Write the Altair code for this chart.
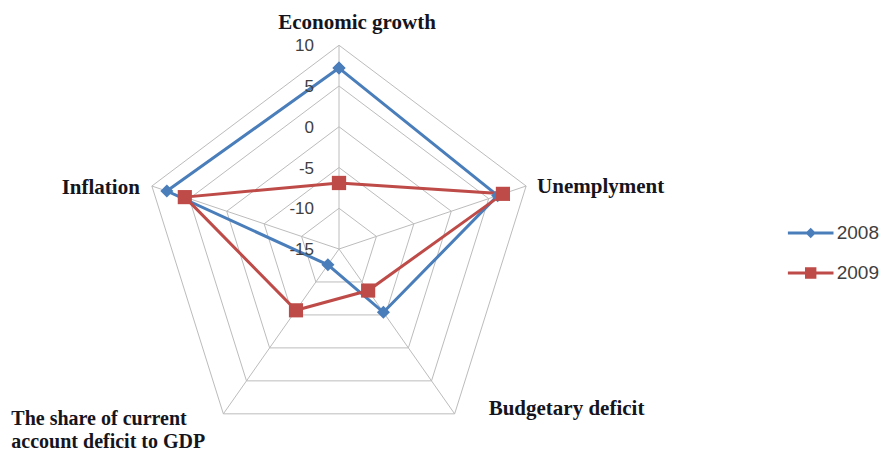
import altair as alt
import pandas as pd

# ---------------- data ----------------
axis_names = ["Economic growth", "Unemplyment", "Budgetary deficit",
              "The share of current\naccount deficit to GDP", "Inflation"]
series_names = ["2008", "2009"]
values_2008 = [7.2, 6.2, -5.4, -12.6, 8.0]
values_2009 = [-6.9, 6.9, -8.7, -5.7, 5.6]
ring_levels = [-10, -5, 0, 5, 10]
tick_values = [10, 5, 0, -5, -10, -15]
tick_labels = ["10", "5", "0", "-5", "-10", "-15"]
R_MIN = -15

colors = ["#4a7ebb", "#be4b48"]

# ---------------- layout ----------------
W, H = 874, 441
CX, CY = 331, 241          # centre of the radar inside the plot area (px)
SX, SY = 7.87, 8.15        # px per value unit
x_dom = [-CX / SX, (W - CX) / SX]
y_dom = [-(H - CY) / SY, CY / SY]
N = len(axis_names)

def X(f):
    return alt.X(f, type="quantitative", scale=alt.Scale(domain=x_dom, nice=False, zero=False), axis=None)

def Y(f):
    return alt.Y(f, type="quantitative", scale=alt.Scale(domain=y_dom, nice=False, zero=False), axis=None)

# ---------------- tables ----------------
rows = []
for s, vals in zip(series_names, [values_2008, values_2009]):
    for i in range(N + 1):
        rows.append({"series": s, "idx": i, "value": vals[i % N]})
series_df = pd.DataFrame(rows)

ring_df = pd.DataFrame([{"level": lv, "idx": i, "value": lv} for lv in ring_levels for i in range(N + 1)])
spoke_df = pd.DataFrame({"idx": list(range(N)), "value": [max(ring_levels)] * N})
tick_df = pd.DataFrame({"value": tick_values, "label": tick_labels, "idx": [0] * len(tick_values)})
label_df = pd.DataFrame({"idx": list(range(N)), "label": axis_names, "value": [max(ring_levels)] * N})

def polar(ch):
    return ch.transform_calculate(
        r=f"datum.value - ({R_MIN})",
        ang=f"datum.idx * 2 * PI / {N}",
    ).transform_calculate(
        px="datum.r * sin(datum.ang)",
        py="datum.r * cos(datum.ang)",
        zx="0", zy="0",
    )

grid_color = "#bcbcbc"

rings = polar(alt.Chart(ring_df)).mark_line(color=grid_color, strokeWidth=1).encode(
    x=X("px"), y=Y("py"), detail="level:N", order="idx:Q")

spokes = polar(alt.Chart(spoke_df)).mark_rule(color=grid_color, strokeWidth=1).encode(
    x=X("zx"), y=Y("zy"), x2="px:Q", y2="py:Q")

series_layers = []
for s, c in zip(series_names, colors):
    base = polar(alt.Chart(series_df)).transform_filter(alt.datum.series == s)
    series_layers.append(base.mark_line(strokeWidth=3, color=c).encode(
        x=X("px"), y=Y("py"), order="idx:Q"))
pt_layers = []
for s, c, shp, sz in zip(series_names, colors, ["diamond", "square"], [170, 200]):
    base = polar(alt.Chart(series_df)).transform_filter(alt.datum.series == s)
    pt_layers.append(base.mark_point(shape=shp, filled=True, size=sz, opacity=1, color=c).encode(
        x=X("px"), y=Y("py")))

# legend symbols: line with diamond / line with square
leg_paths = [
    "M-1,-0.066L1,-0.066L1,0.066L-1,0.066Z M0,-0.23L0.23,0L0,0.23L-0.23,0Z",
    "M-1,-0.066L1,-0.066L1,0.066L-1,0.066Z M-0.25,-0.25L0.25,-0.25L0.25,0.25L-0.25,0.25Z",
]
leg = alt.Legend(title=None, orient="none", legendX=779.7, legendY=202, symbolSize=2080,
                 labelFont="Liberation Sans", labelFontSize=19, labelColor="#404040",
                 labelOffset=3, rowPadding=7, symbolStrokeWidth=0, padding=0)
legend_layer = polar(alt.Chart(series_df)).transform_filter(alt.datum.series == "none").mark_point(
    filled=True, opacity=1).encode(
    x=X("px"), y=Y("py"),
    color=alt.Color("series:N", scale=alt.Scale(domain=series_names, range=colors), legend=leg),
    shape=alt.Shape("series:N", scale=alt.Scale(domain=series_names, range=leg_paths), legend=leg))

ticks = polar(alt.Chart(tick_df)).mark_text(
    align="right", baseline="middle", dx=-25, dy=1, font="Liberation Sans", fontSize=17,
    color="#404040").encode(x=X("px"), y=Y("py"), text="label:N")

label_styles = [
    dict(align="center", dx=18, dy=-22, fontSize=21, lineHeight=23),
    dict(align="left", dx=11, dy=1, fontSize=21, lineHeight=23),
    dict(align="left", dx=34, dy=-5, fontSize=21, lineHeight=23),
    dict(align="left", dx=-212, dy=5, fontSize=20, lineHeight=23),
    dict(align="right", dx=-12, dy=2, fontSize=21, lineHeight=23),
]
label_layers = []
for i, st in enumerate(label_styles):
    label_layers.append(
        polar(alt.Chart(label_df)).transform_filter(alt.datum.idx == i).mark_text(
            baseline="middle", font="Liberation Serif", fontWeight="bold",
            color="#151520", lineBreak="\n", **st).encode(
            x=X("px"), y=Y("py"), text="label:N"))

chart = alt.layer(rings, spokes, *series_layers, *pt_layers, legend_layer, ticks, *label_layers).properties(
    width=W, height=H, padding=0, autosize=alt.AutoSizeParams(type="none"), background="white"
).configure_view(stroke=None)

chart.save("out.html", embed_options={"renderer": "svg", "actions": False})
